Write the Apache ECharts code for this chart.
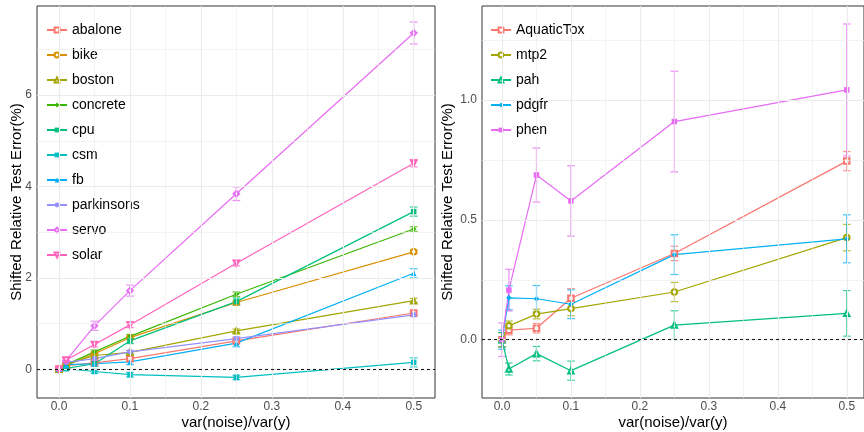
<!DOCTYPE html>
<html><head><meta charset="utf-8">
<script src="https://cdn.jsdelivr.net/npm/echarts@6/dist/echarts.min.js"></script>
<style>html,body{margin:0;padding:0;background:#fff}#c{width:864px;height:432px}</style>
</head><body><div id="c"></div>
<script>
// ---- data ----
const noiseLevels = [0, 0.01, 0.05, 0.1, 0.25, 0.5];

const leftNames = ['abalone','bike','boston','concrete','cpu','csm','fb','parkinsons','servo','solar'];
const abalone    = [0, 0.08, 0.14, 0.23, 0.62, 1.23];
const bike       = [0, 0.08, 0.34, 0.69, 1.46, 2.57];
const boston     = [0, 0.10, 0.30, 0.37, 0.84, 1.50];
const concrete   = [0, 0.10, 0.38, 0.72, 1.64, 3.07];
const cpu        = [0, 0.02, 0.12, 0.62, 1.48, 3.45];
const csm        = [0, 0.01, -0.05, -0.12, -0.18, 0.15];
const fb         = [0, 0.10, 0.12, 0.16, 0.57, 2.10];
const parkinsons = [0, 0.15, 0.23, 0.38, 0.67, 1.19];
const servo      = [0, 0.19, 0.95, 1.72, 3.84, 7.36];
const solar      = [0, 0.20, 0.54, 0.97, 2.32, 4.51];

const abaloneErr    = [0.03, 0.03, 0.03, 0.04, 0.04, 0.04];
const bikeErr       = [0.03, 0.03, 0.03, 0.03, 0.04, 0.04];
const bostonErr     = [0.03, 0.03, 0.03, 0.04, 0.04, 0.05];
const concreteErr   = [0.03, 0.03, 0.04, 0.04, 0.05, 0.05];
const cpuErr        = [0.03, 0.03, 0.04, 0.06, 0.08, 0.10];
const csmErr        = [0.03, 0.03, 0.04, 0.05, 0.05, 0.10];
const fbErr         = [0.03, 0.03, 0.05, 0.06, 0.08, 0.10];
const parkinsonsErr = [0.03, 0.03, 0.03, 0.03, 0.04, 0.04];
const servoErr      = [0.03, 0.05, 0.10, 0.12, 0.15, 0.24];
const solarErr      = [0.03, 0.05, 0.05, 0.06, 0.06, 0.08];

const rightNames = ['AquaticTox','mtp2','pah','pdgfr','phen'];
const AquaticTox = [0, 0.040, 0.048, 0.173, 0.360, 0.745];
const mtp2       = [0, 0.058, 0.107, 0.130, 0.199, 0.426];
const pah        = [0, -0.122, -0.058, -0.129, 0.061, 0.110];
const pdgfr      = [0, 0.175, 0.171, 0.148, 0.355, 0.421];
const phen       = [0, 0.207, 0.687, 0.579, 0.910, 1.042];

const AquaticToxErr = [0.03, 0.02, 0.02, 0.04, 0.03, 0.04];
const mtp2Err       = [0.03, 0.02, 0.02, 0.03, 0.04, 0.055];
const pahErr        = [0.03, 0.025, 0.03, 0.04, 0.06, 0.095];
const pdgfrErr      = [0.04, 0.05, 0.055, 0.06, 0.083, 0.10];
const phenErr       = [0.07, 0.087, 0.113, 0.147, 0.21, 0.275];

const xTicks = [0, 0.1, 0.2, 0.3, 0.4, 0.5];
const xMinor = [0.05, 0.15, 0.25, 0.35, 0.45];
const leftYTicks = [0, 2, 4, 6];
const leftYMinor = [1, 3, 5, 7];
const rightYTicks = [0, 0.5, 1.0];
const rightYMinor = [0.25, 0.75, 1.25];

// ---- styling ----
const leftValues = {abalone, bike, boston, concrete, cpu, csm, fb, parkinsons, servo, solar};
const leftErrs = {abalone: abaloneErr, bike: bikeErr, boston: bostonErr, concrete: concreteErr, cpu: cpuErr,
  csm: csmErr, fb: fbErr, parkinsons: parkinsonsErr, servo: servoErr, solar: solarErr};
const rightValues = {AquaticTox, mtp2, pah, pdgfr, phen};
const rightErrs = {AquaticTox: AquaticToxErr, mtp2: mtp2Err, pah: pahErr, pdgfr: pdgfrErr, phen: phenErr};

const leftColors = ['#F8766D','#D89000','#A3A500','#39B600','#00BF7D','#00BFC4','#00B0F6','#9590FF','#E76BF3','#FF62BC'];
const leftSymbols = ['emptyRect','emptyCircle','emptyTriangle','diamond','rect','rect','triangle','circle','emptyDiamond','emptyTriangle'];
const leftRot = [0,0,0,0,0,0,0,0,0,180];
const rightColors = ['#F8766D','#A3A500','#00BF7D','#00B0F6','#E76BF3'];
const rightSymbols = ['emptyRect','emptyCircle','emptyTriangle','diamond','rect'];

const FONT = '"Liberation Sans", Arial, Helvetica, sans-serif';

function gridLineSeries(xi, xt, xm, yt, ym) {
  const data = [];
  xm.forEach(v => data.push({xAxis: v, lineStyle: {width: 0.6}}));
  ym.forEach(v => data.push({yAxis: v, lineStyle: {width: 0.6}}));
  xt.forEach(v => data.push({xAxis: v, lineStyle: {width: 1.1}}));
  yt.forEach(v => data.push({yAxis: v, lineStyle: {width: 1.1}}));
  data.push({yAxis: 0, lineStyle: {width: 1.1, color: '#1a1a1a', type: [3, 3]}});
  return {
    type: 'line', name: '_grid' + xi, xAxisIndex: xi, yAxisIndex: xi, data: [], z: 0,
    silent: true,
    markLine: {silent: true, symbol: 'none', label: {show: false}, animation: false,
      lineStyle: {color: '#EBEBEB', type: 'solid'}, data}
  };
}

function errSeries(name, xi, color, vals, errs) {
  return {
    type: 'custom', name: name + '_err', xAxisIndex: xi, yAxisIndex: xi, z: 2, silent: true,
    data: noiseLevels.map((x, i) => [x, vals[i] - errs[i], vals[i] + errs[i]]),
    encode: {x: 0, y: [1, 2]},
    renderItem: function (params, api) {
      const x = api.value(0), lo = api.value(1), hi = api.value(2);
      const pLo = api.coord([x, lo]), pHi = api.coord([x, hi]);
      const cL = api.coord([x - 0.0055, lo]), cR = api.coord([x + 0.0055, lo]);
      const hw = (cR[0] - cL[0]) / 2;
      const st = {stroke: color, lineWidth: 1.2, opacity: 0.75};
      return {type: 'group', children: [
        {type: 'line', shape: {x1: pLo[0], y1: pLo[1], x2: pHi[0], y2: pHi[1]}, style: st},
        {type: 'line', shape: {x1: pLo[0] - hw, y1: pLo[1], x2: pLo[0] + hw, y2: pLo[1]}, style: st},
        {type: 'line', shape: {x1: pHi[0] - hw, y1: pHi[1], x2: pHi[0] + hw, y2: pHi[1]}, style: st}
      ]};
    }
  };
}

function lineSeries(name, xi, color, sym, rot, vals) {
  return {
    type: 'line', name, xAxisIndex: xi, yAxisIndex: xi, z: 3,
    data: noiseLevels.map((x, i) => [x, vals[i]]),
    symbol: sym, symbolSize: 5.5, symbolRotate: rot,
    lineStyle: {color, width: 1.2}, itemStyle: {color, borderWidth: 1.1}
  };
}

const series = [];
series.push(gridLineSeries(0, xTicks, xMinor, leftYTicks, leftYMinor));
series.push(gridLineSeries(1, xTicks, xMinor, rightYTicks, rightYMinor));
leftNames.forEach((n, i) => series.push(errSeries(n, 0, leftColors[i], leftValues[n], leftErrs[n])));
rightNames.forEach((n, i) => series.push(errSeries(n, 1, rightColors[i], rightValues[n], rightErrs[n])));
leftNames.forEach((n, i) => series.push(lineSeries(n, 0, leftColors[i], leftSymbols[i], leftRot[i], leftValues[n])));
rightNames.forEach((n, i) => series.push(lineSeries(n, 1, rightColors[i], rightSymbols[i], 0, rightValues[n])));

function xAxis(gi, min, max) {
  return {
    type: 'value', gridIndex: gi, min, max,
    name: 'var(noise)/var(y)', nameLocation: 'middle', nameGap: 17, nameMoveOverlap: false,
    nameTextStyle: {fontFamily: FONT, fontSize: 15, color: '#000'},
    axisLine: {show: false},
    axisTick: {show: true, customValues: xTicks, length: 4, lineStyle: {color: '#333', width: 1}},
    axisLabel: {customValues: xTicks, formatter: v => v.toFixed(1), fontFamily: FONT, fontSize: 12, color: '#4D4D4D', margin: 3},
    splitLine: {show: false}
  };
}
function yAxis(gi, min, max, ticks, fmt, gap) {
  return {
    type: 'value', gridIndex: gi, min, max,
    name: 'Shifted Relative Test Error(%)', nameLocation: 'middle', nameGap: gap, nameMoveOverlap: false,
    nameTextStyle: {fontFamily: FONT, fontSize: 15, color: '#000'},
    axisLine: {show: false},
    axisTick: {show: true, customValues: ticks, length: 4, lineStyle: {color: '#333', width: 1}},
    axisLabel: {customValues: ticks, formatter: fmt, fontFamily: FONT, fontSize: 12, color: '#4D4D4D', margin: 5},
    splitLine: {show: false}
  };
}

function legend(names, left) {
  return {
    data: names, orient: 'vertical', left, top: 17, padding: [6, 6, 6, 6],
    backgroundColor: '#fff', itemWidth: 20, itemHeight: 6, itemGap: 11,
    textStyle: {fontFamily: FONT, fontSize: 14, color: '#000'},
    selectedMode: false
  };
}

const chart = echarts.init(document.getElementById('c'), null, {renderer: 'canvas'});
chart.setOption({
  animation: false,
  backgroundColor: '#fff',
  grid: [
    {left: 37, top: 6, width: 398, bottom: 34, show: true, borderColor: '#333', borderWidth: 1, backgroundColor: 'transparent', outerBoundsMode: 'none', containLabel: false},
    {left: 482, top: 6, right: 0, bottom: 34, show: true, borderColor: '#333', borderWidth: 1, backgroundColor: 'transparent', outerBoundsMode: 'none', containLabel: false}
  ],
  xAxis: [xAxis(0, -0.031, 0.530), xAxis(1, -0.029, 0.525)],
  yAxis: [
    yAxis(0, -0.63, 7.95, leftYTicks, v => String(v), 12.5),
    yAxis(1, -0.243, 1.392, rightYTicks, v => v.toFixed(1), 26.5)
  ],
  legend: [legend(leftNames, 40), legend(rightNames, 484)],
  series
});
</script></body></html>
